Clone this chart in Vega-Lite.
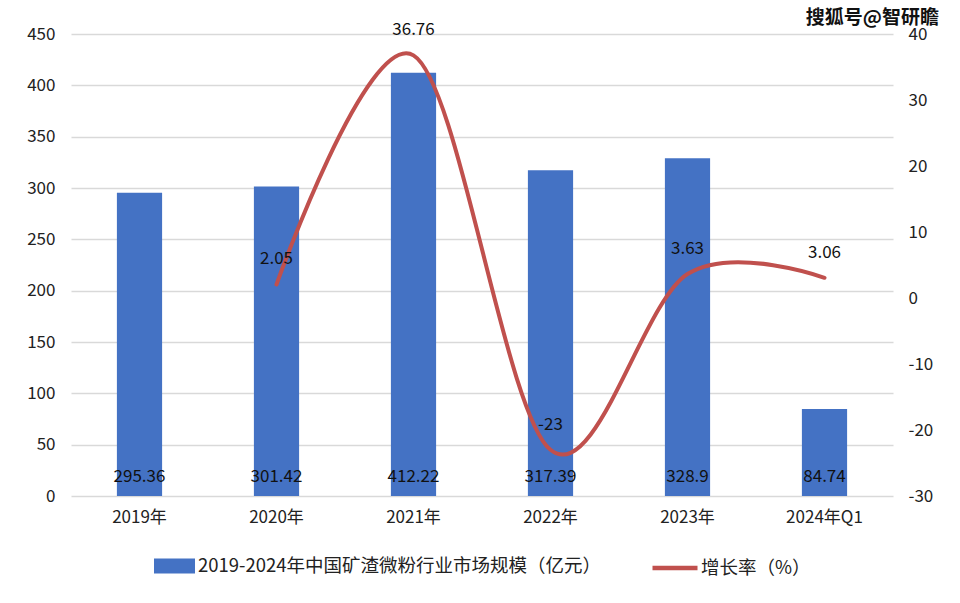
{
  "$schema": "https://vega.github.io/schema/vega-lite/v6.json",
  "width": 822,
  "height": 462,
  "autosize": "none",
  "padding": {"left": 71, "top": 34, "right": 67, "bottom": 107},
  "background": "white",
  "title": {
    "text": "搜狐号@智研瞻",
    "anchor": "end",
    "frame": "group",
    "dx": 46,
    "offset": -7,
    "fontSize": 19,
    "fontWeight": "bold",
    "font": "Noto Sans CJK SC",
    "color": "#111111"
  },
  "data": {
    "values": [
      {"cat": "2019年", "size": 295.36, "rate": null},
      {"cat": "2020年", "size": 301.42, "rate": 2.05},
      {"cat": "2021年", "size": 412.22, "rate": 36.76},
      {"cat": "2022年", "size": 317.39, "rate": -23},
      {"cat": "2023年", "size": 328.9, "rate": 3.63},
      {"cat": "2024年Q1", "size": 84.74, "rate": 3.06}
    ]
  },
  "encoding": {
    "x": {
      "field": "cat",
      "type": "nominal",
      "sort": null,
      "scale": {"paddingInner": 0.67, "paddingOuter": 0.335},
      "axis": {
        "title": null,
        "labelAngle": 0,
        "domain": false,
        "ticks": false,
        "labelPadding": 13,
        "labelFontSize": 17,
        "labelFont": "Noto Sans CJK SC",
        "labelColor": "#222222"
      }
    }
  },
  "layer": [
    {
      "encoding": {
        "y": {
          "field": "size",
          "type": "quantitative",
          "scale": {"domain": [0, 450], "nice": false},
          "axis": {
            "title": null,
            "values": [0, 50, 100, 150, 200, 250, 300, 350, 400, 450],
            "labelOverlap": false,
            "domain": false,
            "ticks": false,
            "labelPadding": 16,
            "labelFontSize": 17,
            "labelFont": "Noto Sans CJK SC",
            "labelColor": "#222222",
            "gridColor": "#d9d9d9",
            "gridWidth": 1.5
          }
        }
      },
      "layer": [
        {
          "mark": {"type": "bar"},
          "encoding": {
            "color": {
              "datum": "2019-2024年中国矿渣微粉行业市场规模（亿元）",
              "type": "nominal",
              "scale": {"range": ["#4472C4"]},
              "legend": {
                "title": null,
                "symbolType": "M-1,-0.37H1V0.37H-1Z",
                "symbolSize": 1681,
                "symbolStrokeWidth": 0,
                "labelFontSize": 18.5,
                "labelFont": "Noto Sans CJK SC",
                "labelColor": "#222222",
                "labelLimit": 600,
                "labelOffset": 3
              }
            }
          }
        },
        {
          "mark": {"type": "text", "dy": -19, "fontSize": 17, "font": "Noto Sans CJK SC", "color": "#111111"},
          "encoding": {
            "y": {"datum": 0, "type": "quantitative"},
            "text": {"field": "size", "type": "quantitative"}
          }
        }
      ]
    },
    {
      "transform": [{"filter": "datum.rate != null"}],
      "encoding": {
        "y": {
          "field": "rate",
          "type": "quantitative",
          "scale": {"domain": [-30, 40], "nice": false},
          "axis": {
            "orient": "right",
            "title": null,
            "values": [-30, -20, -10, 0, 10, 20, 30, 40],
            "labelOverlap": false,
            "grid": false,
            "domain": false,
            "ticks": false,
            "labelPadding": 15,
            "labelFontSize": 17,
            "labelFont": "Noto Sans CJK SC",
            "labelColor": "#222222"
          }
        }
      },
      "layer": [
        {
          "mark": {"type": "line", "interpolate": "cardinal", "strokeWidth": 4, "strokeCap": "round"},
          "encoding": {
            "stroke": {
              "datum": "增长率（%）",
              "type": "nominal",
              "scale": {"range": ["#C0504D"]},
              "legend": {
                "title": null,
                "symbolType": "stroke",
                "symbolStrokeWidth": 4.5,
                "symbolSize": 2025,
                "labelFontSize": 18.5,
                "labelFont": "Noto Sans CJK SC",
                "labelColor": "#222222",
                "labelOffset": 1
              }
            }
          }
        },
        {
          "mark": {"type": "text", "dy": -25, "fontSize": 17, "font": "Noto Sans CJK SC", "color": "#111111"},
          "encoding": {
            "text": {"field": "rate", "type": "quantitative"}
          }
        }
      ]
    }
  ],
  "resolve": {"scale": {"y": "independent"}},
  "config": {
    "locale": {
      "number": {
        "decimal": ".",
        "thousands": ",",
        "grouping": [3],
        "currency": ["$", ""],
        "minus": "-"
      }
    },
    "view": {"stroke": null},
    "legend": {
      "orient": "bottom",
      "direction": "horizontal",
      "offset": 18,
      "padding": 0,
      "layout": {"bottom": {"anchor": "middle", "direction": "horizontal", "center": true, "margin": 48}}
    }
  }
}
